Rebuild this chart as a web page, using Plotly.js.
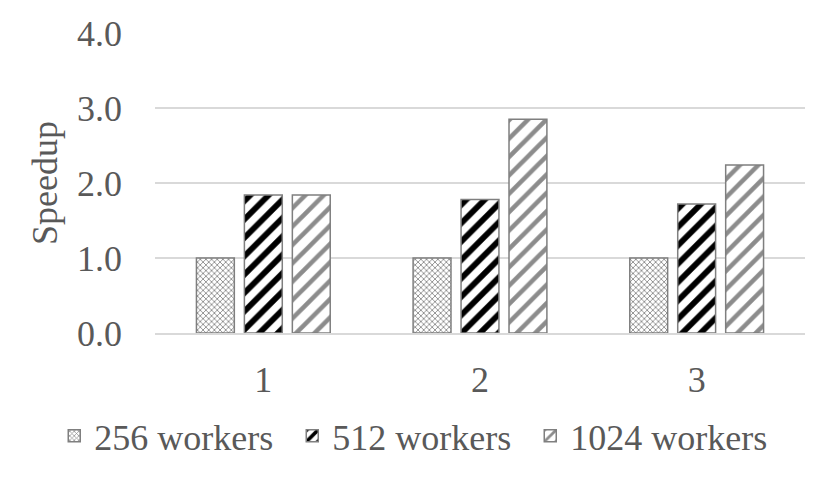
<!DOCTYPE html>
<html>
<head>
<meta charset="utf-8">
<script src="https://cdn.plot.ly/plotly-3.0.1.min.js"></script>
<style>
html, body { margin:0; padding:0; background:#fff; }
#grafica { width:830px; height:479px; }
</style>
</head>
<body>
<div id="grafica"></div>
<script>
const categorias = ['1', '2', '3'];
const series = ['256 workers', '512 workers', '1024 workers'];
const workers256 = [1.0, 1.0, 1.0];
const workers512 = [1.84, 1.78, 1.72];
const workers1024 = [1.84, 2.85, 2.24];

const fuente = '"Liberation Serif"';
const tam = 36;

const traces = [
    {
        x: categorias,
        y: workers256,
        name: series[0],
        type: 'bar',
        marker: {
            color: 'white',
            line: { color: '#7f7f7f', width: 1.5 },
            pattern: { shape: 'x', fgcolor: '#8c8c8c', bgcolor: 'white', fgopacity: 1, size: 4, solidity: 0.4, fillmode: 'overlay' }
        }
    },
    {
        x: categorias,
        y: workers512,
        name: series[1],
        type: 'bar',
        marker: {
            color: 'white',
            line: { color: '#7f7f7f', width: 1.5 },
            pattern: { shape: '/', fgcolor: 'black', bgcolor: 'white', fgopacity: 1, size: 13, solidity: 0.45, fillmode: 'overlay' }
        }
    },
    {
        x: categorias,
        y: workers1024,
        name: series[2],
        type: 'bar',
        marker: {
            color: 'white',
            line: { color: '#7f7f7f', width: 1.5 },
            pattern: { shape: '/', fgcolor: '#8c8c8c', bgcolor: 'white', fgopacity: 1, size: 13, solidity: 0.35, fillmode: 'overlay' }
        }
    }
];

const layout = {
    width: 830,
    height: 479,
    margin: { l: 155, r: 25, t: 33, b: 146, autoexpand: false },
    paper_bgcolor: 'white',
    plot_bgcolor: 'white',
    font: { family: fuente, color: '#595959', size: tam },
    barmode: 'group',
    bargap: 0.336,
    bargroupgap: 0.21,
    showlegend: true,
    legend: {
        orientation: 'h',
        x: -0.155,
        xanchor: 'left',
        y: -0.243,
        yanchor: 'top',
        font: { family: fuente, size: tam, color: '#595959' },
        itemwidth: 30,
        entrywidth: 193,
        traceorder: 'normal'
    },
    xaxis: {
        type: 'category',
        showgrid: false,
        showline: true,
        linecolor: '#d9d9d9',
        linewidth: 1.5,
        ticks: '',
        tickfont: { family: fuente, size: tam, color: '#595959' },
        ticklabelstandoff: 14
    },
    yaxis: {
        range: [0, 4],
        dtick: 1,
        tickformat: '.1f',
        showgrid: true,
        gridcolor: '#d9d9d9',
        gridwidth: 1.5,
        zeroline: false,
        showline: false,
        ticks: '',
        tickfont: { family: fuente, size: tam, color: '#595959' },
        ticklabelstandoff: 32,
        title: { text: 'Speedup', font: { family: fuente, size: tam, color: '#595959' }, standoff: 8 }
    }
};

Plotly.newPlot('grafica', traces, layout, { displayModeBar: false, staticPlot: true });
</script>
</body>
</html>
